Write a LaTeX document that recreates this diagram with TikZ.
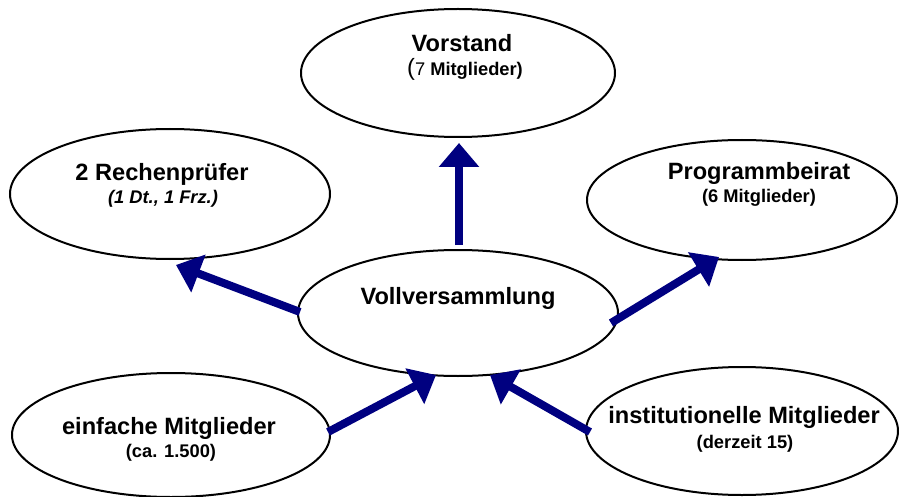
\documentclass[tikz,border=0pt]{standalone}
\usepackage{fontspec}
\setmainfont{Liberation Sans}
\usetikzlibrary{shapes.geometric,arrows.meta}
\definecolor{navyarrow}{RGB}{0,0,128}
\tikzset{
  oval/.style={draw=black, line width=2pt, ellipse, inner sep=0pt},
  titletext/.style={anchor=base, inner sep=0pt, font=\fontsize{23.6}{28}\selectfont\bfseries},
  subtext/.style={anchor=base, inner sep=0pt, font=\fontsize{18.3}{22}\selectfont\bfseries},
  arr/.style={navyarrow, line width=8pt, -{Triangle[length=24pt,width=39pt]}}
}
\begin{document}
\begin{tikzpicture}[x=1pt,y=-1pt]
\useasboundingbox (0,0) rectangle (899,497);
% ellipses
\node[oval, minimum width=314pt, minimum height=128pt] (vs) at (458,73) {};
\node[oval, minimum width=320pt, minimum height=130pt] (rp) at (170,194) {};
\node[oval, minimum width=310pt, minimum height=120pt] (pb) at (742,200) {};
\node[oval, minimum width=320pt, minimum height=126pt] (vv) at (458,313) {};
\node[oval, minimum width=318pt, minimum height=124pt] (em) at (171,435) {};
\node[oval, minimum width=312pt, minimum height=128pt] (im) at (742,431) {};
% texts
\node[titletext] (vst) at (462,52) {Vorstand};
\node[subtext] (vss) at (465,76) {{\fontsize{23.6}{28}\selectfont\mdseries(}{\mdseries 7} Mitglieder)};
\node[titletext] (rpt) at (162,181) {2 Rechenprüfer};
\node[subtext] (rps) at (163,204) {\itshape (1 Dt., 1 Frz.)};
\node[titletext] (pbt) at (759,180) {Programmbeirat};
\node[subtext] (pbs) at (759,203) {(6 Mitglieder)};
\node[titletext] (vvt) at (458,304) {Vollversammlung};
\node[titletext] (emt) at (169,434) {einfache Mitglieder};
\node[subtext] (ems) at (171,457) {(ca. 1.500)};
\node[titletext] (imt) at (744,423) {institutionelle Mitglieder};
\node[subtext] (ims) at (745,448) {(derzeit 15)};
% arrow end points
\coordinate (a1s) at (459,245);
\coordinate (a1e) at (459,143);
\coordinate (a2s) at (300,312);
\coordinate (a2e) at (176,265);
\coordinate (a3s) at (611,323);
\coordinate (a3e) at (719,257);
\coordinate (a4s) at (328,432);
\coordinate (a4e) at (436,375);
\coordinate (a5s) at (590,432);
\coordinate (a5e) at (490,375);
% arrows
\draw[arr] (a1s) -- (a1e);
\draw[arr] (a2s) -- (a2e);
\draw[arr] (a3s) -- (a3e);
\draw[arr] (a4s) -- (a4e);
\draw[arr] (a5s) -- (a5e);
\end{tikzpicture}
\end{document}
